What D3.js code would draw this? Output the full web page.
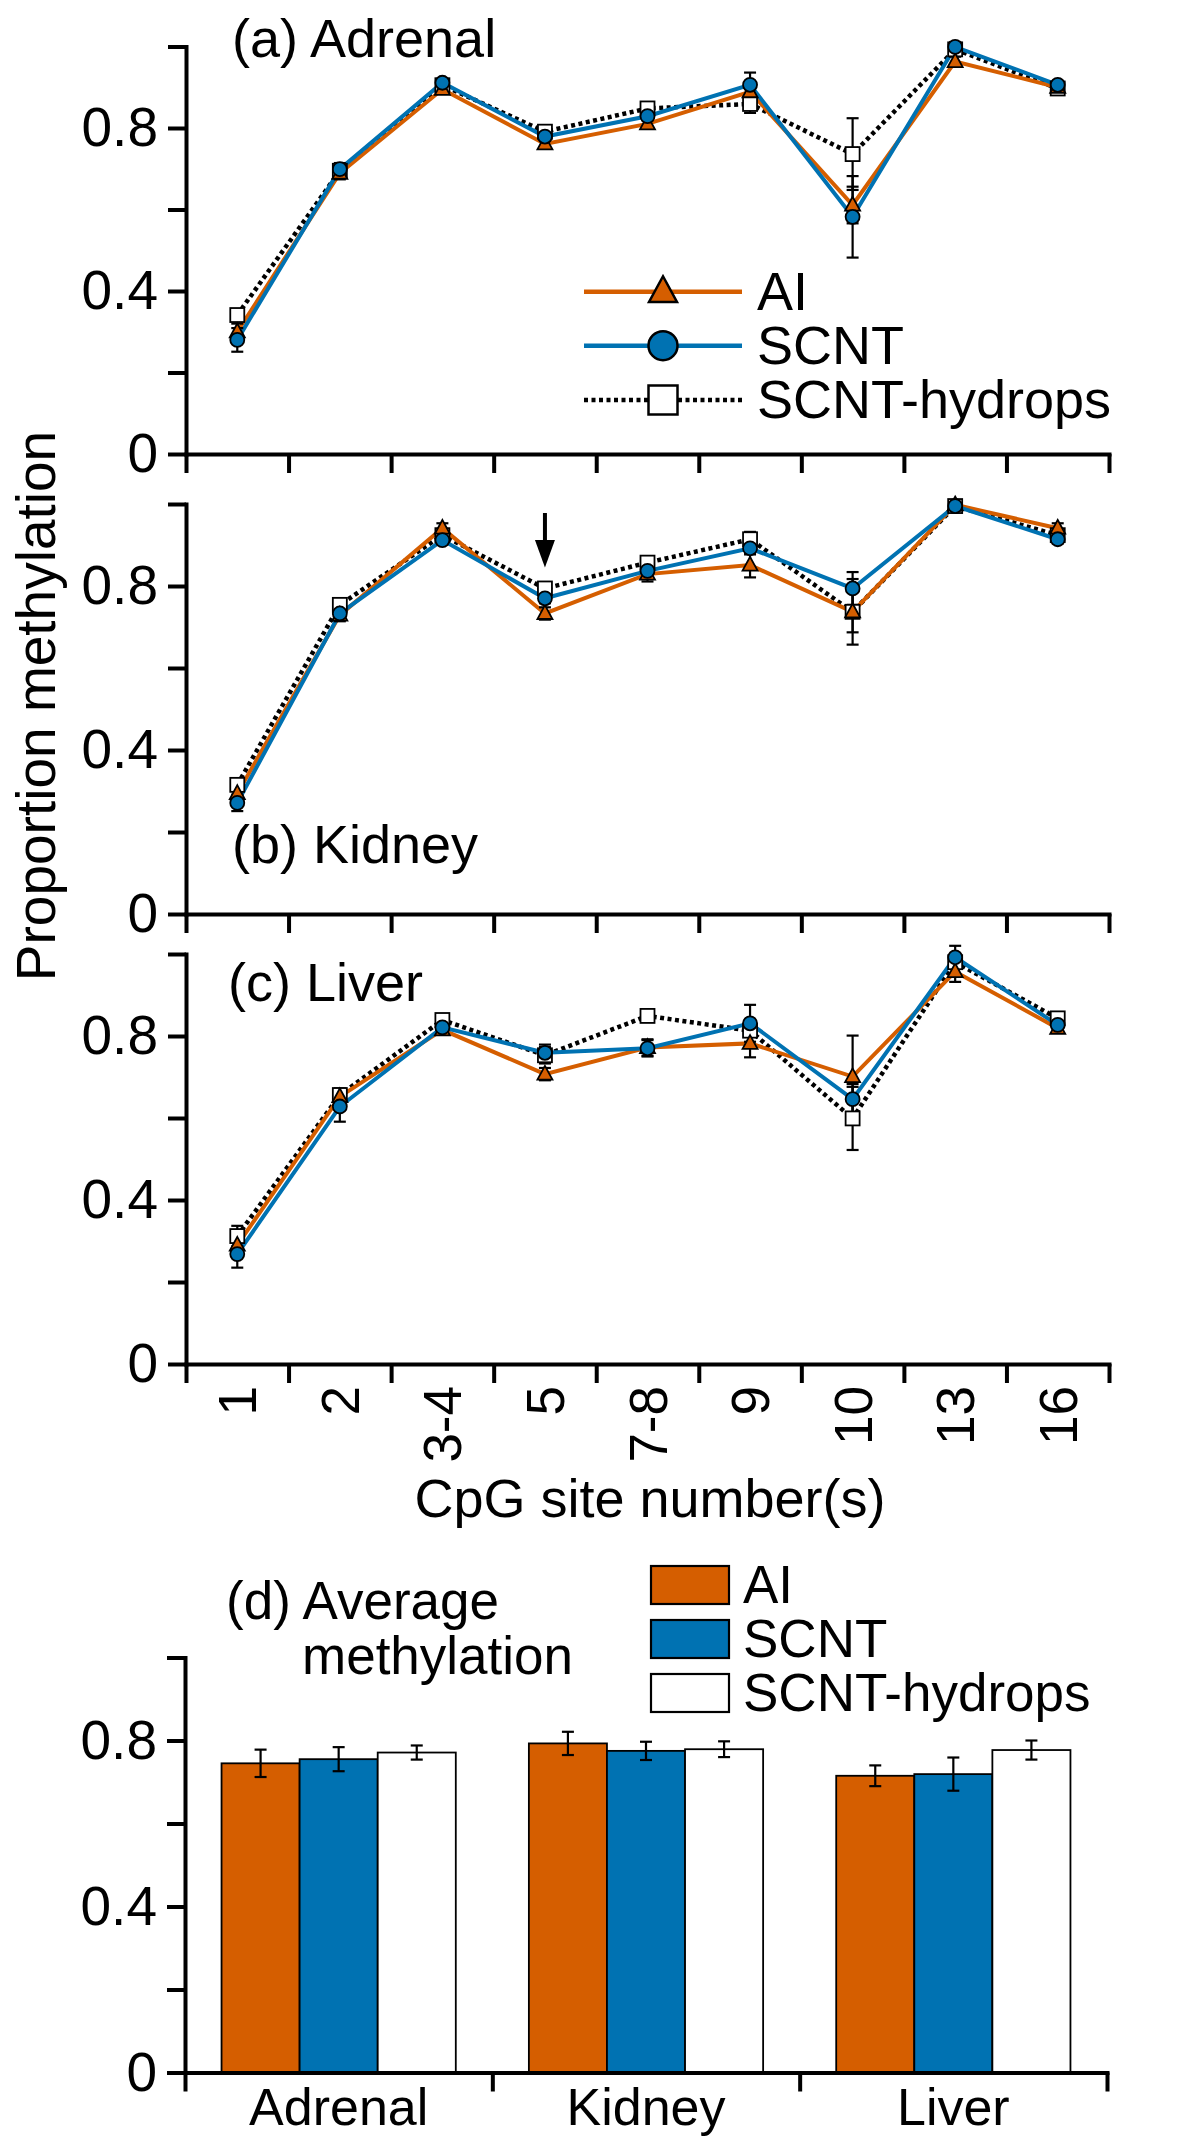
<!DOCTYPE html>
<html><head><meta charset="utf-8">
<script src="https://cdn.jsdelivr.net/npm/d3@7"></script>
<style>
body{margin:0;background:#fff}
svg text{font-family:"Liberation Sans",Arial,Helvetica,sans-serif;fill:#000}
</style>
</head><body>
<svg id="chart" width="1200" height="2140"></svg>
<script>
// ---------------- data ----------------
const sites = ["1","2","3-4","5","7-8","9","10","13","16"];
const groups = ["AI","SCNT","SCNT-hydrops"];
const tissues = ["Adrenal","Kidney","Liver"];
const yTickValues = [0,0.2,0.4,0.6,0.8,1];
const yTickLabels = ["0","","0.4","","0.8",""];

const adrenalAI      = [0.300,0.689,0.895,0.761,0.810,0.889,0.611,0.963,0.900];
const adrenalAIErr   = [0.020,0.015,0.010,0.012,0.012,0.020,0.045,0.012,0.008];
const adrenalSCNT    = [0.280,0.699,0.911,0.779,0.829,0.906,0.582,0.999,0.906];
const adrenalSCNTErr = [0.029,0.015,0.008,0.010,0.010,0.030,0.100,0.012,0.006];
const adrenalHyd     = [0.341,0.695,0.905,0.791,0.848,0.859,0.736,0.993,0.897];
const adrenalHydErr  = [0.010,0.010,0.008,0.010,0.008,0.022,0.088,0.010,0.006];

const kidneyAI       = [0.294,0.729,0.941,0.733,0.829,0.851,0.737,0.998,0.941];
const kidneyAIErr    = [0.020,0.015,0.012,0.015,0.018,0.030,0.080,0.008,0.012];
const kidneySCNT     = [0.271,0.733,0.912,0.770,0.837,0.892,0.794,0.995,0.914];
const kidneySCNTErr  = [0.020,0.015,0.010,0.012,0.015,0.015,0.040,0.008,0.010];
const kidneyHyd      = [0.315,0.754,0.924,0.794,0.857,0.914,0.737,0.995,0.924];
const kidneyHydErr   = [0.015,0.010,0.010,0.010,0.010,0.018,0.050,0.008,0.010];

const liverAI        = [0.290,0.652,0.815,0.707,0.772,0.782,0.701,0.957,0.819];
const liverAIErr     = [0.020,0.020,0.012,0.015,0.020,0.034,0.100,0.025,0.010];
const liverSCNT      = [0.268,0.628,0.821,0.759,0.770,0.831,0.646,0.992,0.827];
const liverSCNTErr   = [0.033,0.037,0.010,0.020,0.020,0.045,0.037,0.028,0.010];
const liverHyd       = [0.312,0.656,0.839,0.753,0.849,0.813,0.599,0.980,0.843];
const liverHydErr    = [0.025,0.015,0.010,0.020,0.008,0.015,0.077,0.010,0.010];

const avgAI      = [0.745,0.793,0.715];
const avgAIErr   = [0.033,0.028,0.025];
const avgSCNT    = [0.755,0.775,0.719];
const avgSCNTErr = [0.029,0.022,0.040];
const avgHyd     = [0.771,0.779,0.777];
const avgHydErr  = [0.017,0.019,0.023];

// ---------------- style ----------------
const FONT = '"Liberation Sans",Arial,Helvetica,sans-serif';
const colAI = "#D55E00", colSCNT = "#0072B2";
const svg = d3.select("#chart");

const xLeft = 186, xRight = 1109;
const xBand = d3.scaleBand().domain(sites).range([xLeft, xRight]);
const xEdge = d3.scaleLinear().domain([0, sites.length]).range([xLeft, xRight]);
const cx = s => xBand(s) + xBand.bandwidth()/2;

function styleAxis(g, fs){
  g.attr("font-family", FONT).attr("font-size", fs);
  g.select(".domain").attr("stroke","#000").attr("stroke-width",4).attr("stroke-linecap","square");
  g.selectAll(".tick line").attr("stroke","#000").attr("stroke-width",4);
  g.selectAll(".tick text").attr("fill","#000");
}
function drawYAxis(y, x0){
  const g = svg.append("g").attr("transform",`translate(${x0},0)`)
    .call(d3.axisLeft(y).tickValues(yTickValues).tickSize(18).tickSizeOuter(0).tickPadding(10)
      .tickFormat((d,i)=>yTickLabels[i]));
  styleAxis(g, 55);
}
function triPath(x, y, w){
  const h = w*0.92;
  return `M${x},${y-h*0.6}L${x+w/2},${y+h*0.4}L${x-w/2},${y+h*0.4}Z`;
}

const panels = [
  {title:"(a) Adrenal", y0:454, y1:46.5, tx:232, ty:57,
   ai:adrenalAI, aiE:adrenalAIErr, sc:adrenalSCNT, scE:adrenalSCNTErr, hy:adrenalHyd, hyE:adrenalHydErr, legend:true},
  {title:"(b) Kidney", y0:914, y1:504, tx:232, ty:863,
   ai:kidneyAI, aiE:kidneyAIErr, sc:kidneySCNT, scE:kidneySCNTErr, hy:kidneyHyd, hyE:kidneyHydErr, arrow:true},
  {title:"(c) Liver", y0:1364, y1:954, tx:228, ty:1001,
   ai:liverAI, aiE:liverAIErr, sc:liverSCNT, scE:liverSCNTErr, hy:liverHyd, hyE:liverHydErr, labels:true}
];

panels.forEach(p=>{
  const y = d3.scaleLinear().domain([0,1]).range([p.y0, p.y1]);
  drawYAxis(y, xLeft);
  const gx = svg.append("g").attr("transform",`translate(0,${p.y0})`)
    .call(d3.axisBottom(xEdge).tickValues(d3.range(sites.length+1)).tickSize(19).tickSizeOuter(0).tickFormat(""));
  styleAxis(gx, 54);

  svg.append("text").attr("x",p.tx).attr("y",p.ty).attr("font-size",54).text(p.title);

  const line = d3.line().x((d,i)=>cx(sites[i])).y(d=>y(d));
  svg.append("path").datum(p.hy).attr("d",line).attr("fill","none").attr("stroke","#000")
    .attr("stroke-width",4.5).attr("stroke-dasharray","4,3.5");
  svg.append("path").datum(p.ai).attr("d",line).attr("fill","none").attr("stroke",colAI).attr("stroke-width",4);
  svg.append("path").datum(p.sc).attr("d",line).attr("fill","none").attr("stroke",colSCNT).attr("stroke-width",4);

  // error bars
  [[p.hy,p.hyE],[p.ai,p.aiE],[p.sc,p.scE]].forEach(([vals,errs])=>{
    const g = svg.append("g").attr("stroke","#000").attr("stroke-width",2.2);
    vals.forEach((v,i)=>{
      const x = cx(sites[i]), e = errs[i];
      g.append("line").attr("x1",x).attr("x2",x).attr("y1",y(v-e)).attr("y2",y(v+e));
      g.append("line").attr("x1",x-6).attr("x2",x+6).attr("y1",y(v-e)).attr("y2",y(v-e));
      g.append("line").attr("x1",x-6).attr("x2",x+6).attr("y1",y(v+e)).attr("y2",y(v+e));
    });
  });
  // markers
  svg.append("g").selectAll("rect").data(p.hy).join("rect")
    .attr("x",(d,i)=>cx(sites[i])-7).attr("y",d=>y(d)-7).attr("width",14).attr("height",14)
    .attr("fill","#fff").attr("stroke","#000").attr("stroke-width",1.8);
  svg.append("g").selectAll("path").data(p.ai).join("path")
    .attr("d",(d,i)=>triPath(cx(sites[i]), y(d), 15))
    .attr("fill",colAI).attr("stroke","#000").attr("stroke-width",1.8);
  svg.append("g").selectAll("circle").data(p.sc).join("circle")
    .attr("cx",(d,i)=>cx(sites[i])).attr("cy",d=>y(d)).attr("r",7)
    .attr("fill",colSCNT).attr("stroke","#000").attr("stroke-width",1.8);

  if(p.arrow){
    const ax = cx("5");
    svg.append("line").attr("x1",ax).attr("x2",ax).attr("y1",y(0.978)).attr("y2",y(0.905))
      .attr("stroke","#000").attr("stroke-width",4);
    svg.append("path").attr("d",`M${ax-10},${y(0.912)}L${ax+10},${y(0.912)}L${ax},${y(0.845)}Z`).attr("fill","#000");
  }
  if(p.labels){
    sites.forEach(s=>{
      const x = cx(s), yy = p.y0 + 22;
      svg.append("text").attr("transform",`translate(${x},${yy}) rotate(-90)`)
        .attr("text-anchor","end").attr("dy","0.36em").attr("font-size",53).text(s);
    });
  }
  if(p.legend){
    const lx0 = 584, lx1 = 742, mx = 663, tx = 757;
    const rows = [291.7, 345.7, 400];
    svg.append("line").attr("x1",lx0).attr("x2",lx1).attr("y1",rows[0]).attr("y2",rows[0]).attr("stroke",colAI).attr("stroke-width",4.5);
    svg.append("path").attr("d",triPath(mx, rows[0], 28)).attr("fill",colAI).attr("stroke","#000").attr("stroke-width",2.5);
    svg.append("line").attr("x1",lx0).attr("x2",lx1).attr("y1",rows[1]).attr("y2",rows[1]).attr("stroke",colSCNT).attr("stroke-width",4.5);
    svg.append("circle").attr("cx",mx).attr("cy",rows[1]).attr("r",14.5).attr("fill",colSCNT).attr("stroke","#000").attr("stroke-width",2.5);
    svg.append("line").attr("x1",lx0).attr("x2",mx-15).attr("y1",rows[2]).attr("y2",rows[2]).attr("stroke","#000").attr("stroke-width",4.5).attr("stroke-dasharray","4,3.5");
    svg.append("line").attr("x1",mx+15).attr("x2",lx1).attr("y1",rows[2]).attr("y2",rows[2]).attr("stroke","#000").attr("stroke-width",4.5).attr("stroke-dasharray","4,3.5");
    svg.append("rect").attr("x",mx-14.5).attr("y",rows[2]-14.5).attr("width",29).attr("height",29).attr("fill","#fff").attr("stroke","#000").attr("stroke-width",2.5);
    groups.forEach((gname,i)=>{
      svg.append("text").attr("x",tx).attr("y",rows[i]+18).attr("font-size",54).text(gname);
    });
  }
});

// axis titles
svg.append("text").attr("transform","translate(55,706) rotate(-90)").attr("text-anchor","middle")
  .attr("font-size",55).text("Proportion methylation");
svg.append("text").attr("x",650).attr("y",1517).attr("text-anchor","middle").attr("font-size",54).text("CpG site number(s)");

// ---------------- panel d ----------------
const dLeft = 185, dRight = 1107;
const yD = d3.scaleLinear().domain([0,1]).range([2072.5, 1657.5]);
const xG = d3.scaleBand().domain(tissues).range([dLeft, dRight]);
const xIn = d3.scaleBand().domain(groups).range([0, xG.bandwidth()]).paddingInner(0).paddingOuter(0.468);
const xGEdge = d3.scaleLinear().domain([0, tissues.length]).range([dLeft, dRight]);

const avgVals = [avgAI, avgSCNT, avgHyd];
const avgErrs = [avgAIErr, avgSCNTErr, avgHydErr];
const fills = [colAI, colSCNT, "#fff"];

tissues.forEach((t,ti)=>{
  groups.forEach((gname,gi)=>{
    const v = avgVals[gi][ti];
    svg.append("rect").attr("x",xG(t)+xIn(gname)).attr("y",yD(v))
      .attr("width",xIn.bandwidth()).attr("height",yD(0)-yD(v))
      .attr("fill",fills[gi]).attr("stroke","#000").attr("stroke-width",1.8);
  });
});
tissues.forEach((t,ti)=>{
  groups.forEach((gname,gi)=>{
    const v = avgVals[gi][ti], e = avgErrs[gi][ti];
    const x = xG(t)+xIn(gname)+xIn.bandwidth()/2;
    const g = svg.append("g").attr("stroke","#000").attr("stroke-width",2.2);
    g.append("line").attr("x1",x).attr("x2",x).attr("y1",yD(v-e)).attr("y2",yD(v+e));
    g.append("line").attr("x1",x-6).attr("x2",x+6).attr("y1",yD(v-e)).attr("y2",yD(v-e));
    g.append("line").attr("x1",x-6).attr("x2",x+6).attr("y1",yD(v+e)).attr("y2",yD(v+e));
  });
});
drawYAxis(yD, dLeft);
const gxd = svg.append("g").attr("transform",`translate(0,${yD(0)})`)
  .call(d3.axisBottom(xGEdge).tickValues(d3.range(tissues.length+1)).tickSize(19).tickSizeOuter(0).tickFormat(""));
styleAxis(gxd, 52);
tissues.forEach(t=>{
  svg.append("text").attr("x",xG(t)+xG.bandwidth()/2).attr("y",2125).attr("text-anchor","middle")
    .attr("font-size",52).text(t);
});

svg.append("text").attr("x",226).attr("y",1619).attr("font-size",53).text("(d) Average");
svg.append("text").attr("x",302).attr("y",1674).attr("font-size",53).text("methylation");

// legend d
const legTop = [1566, 1620, 1674];
groups.forEach((gname,i)=>{
  svg.append("rect").attr("x",651).attr("y",legTop[i]).attr("width",78).attr("height",38)
    .attr("fill",fills[i]).attr("stroke","#000").attr("stroke-width",2.2);
  svg.append("text").attr("x",743).attr("y",legTop[i]+37).attr("font-size",53).text(gname);
});
</script>
</body></html>
